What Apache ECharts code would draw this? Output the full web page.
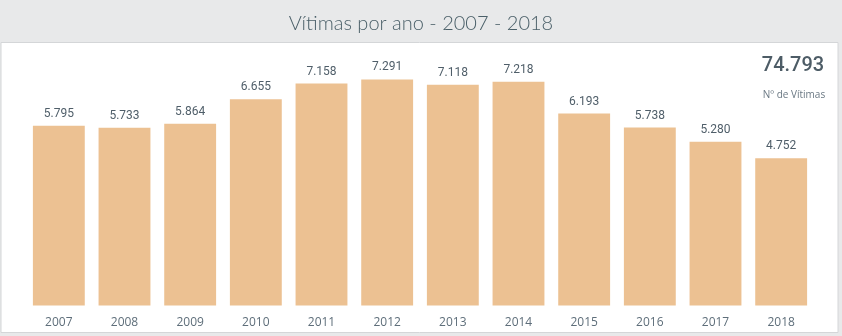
<!DOCTYPE html>
<html>
<head>
<meta charset="utf-8">
<script src="https://cdn.jsdelivr.net/npm/echarts@6/dist/echarts.min.js"></script>
<style>
html,body{margin:0;padding:0;background:#e8e9ea;}
#chart{width:842px;height:336px;}
</style>
</head>
<body>
<div id="chart"></div>
<script>
const categories = ['2007','2008','2009','2010','2011','2012','2013','2014','2015','2016','2017','2018'];
const victims = [5795, 5733, 5864, 6655, 7158, 7291, 7118, 7218, 6193, 5738, 5280, 4752];
const titleText = 'Vítimas por ano - 2007 - 2018';
const totalText = '74.793';
const totalLabel = 'Nº de Vítimas';

function fmt(v){ return String(v).replace(/\B(?=(\d{3})+(?!\d))/g, '.'); }

const chart = echarts.init(document.getElementById('chart'), null, {renderer:'canvas'});
chart.setOption({
  backgroundColor: '#e8e9ea',
  animation: false,
  graphic: [
    {type:'rect', z:-10, silent:true, shape:{x:1, y:42.5, width:837, height:290},
     style:{fill:'#ffffff', stroke:'#d4d6d8', lineWidth:1}}
  ],
  title: [
    {text: titleText, left:'center', top:9,
     textStyle:{fontFamily:'Lato', fontWeight:300, fontSize:20, color:'#4a5f68'}},
    {text: totalText, left:788, top:51, textAlign:'center',
     textStyle:{fontFamily:'Roboto', fontWeight:500, fontSize:20, color:'#4d5c66'}},
    {text: totalLabel, left:789, top:85, textAlign:'center',
     textStyle:{fontFamily:'Open Sans', fontWeight:'normal', fontSize:10, color:'#6a7883'}}
  ],
  grid: {left:26, right:28, top:57.5, bottom:30.5},
  xAxis: {
    type:'category', data:categories,
    axisLine:{show:false}, axisTick:{show:false},
    axisLabel:{fontFamily:'Open Sans', fontSize:12, color:'#5e6e7a', margin:11}
  },
  yAxis: {type:'value', min:0, max:8000, show:false, splitLine:{show:false}},
  series: [{
    type:'bar', data:victims, barCategoryGap:'21%',
    itemStyle:{color:'#ecc192'},
    label:{show:true, position:'top', distance:6, formatter:p=>fmt(p.value),
      fontFamily:'Roboto', fontWeight:'normal', fontSize:12, color:'#4f5e69'}
  }]
});
</script>
</body>
</html>
